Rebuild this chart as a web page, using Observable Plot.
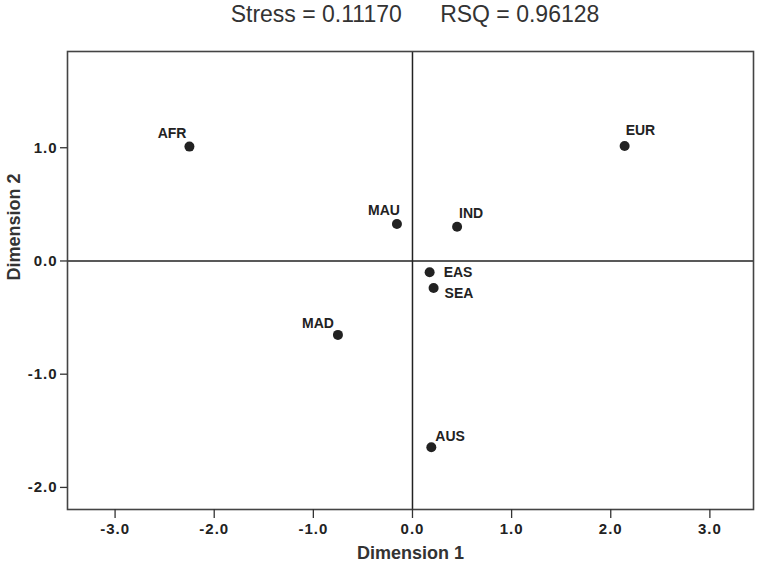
<!DOCTYPE html>
<html>
<head>
<meta charset="utf-8">
<script src="https://cdn.jsdelivr.net/npm/d3@7"></script>
<script src="https://cdn.jsdelivr.net/npm/@observablehq/plot@0.6"></script>
<style>
  body { margin: 0; background: #fff; font-family: "Liberation Sans", Arial, sans-serif; }
  #title { height: 30px; line-height: 28px; text-align: center; font-size: 23px; color: #333; white-space: pre; padding-left: 72px; }
  g[aria-label$="tick label"] text { letter-spacing: 1px; }
</style>
</head>
<body>
<div id="title">Stress = 0.11170      RSQ = 0.96128</div>
<div id="chart"></div>
<script>
const labels = ["AFR", "EUR", "MAU", "IND", "EAS", "SEA", "MAD", "AUS"];
const dim1 = [-2.25, 2.14, -0.157, 0.45, 0.173, 0.213, -0.752, 0.19];
const dim2 = [1.01, 1.016, 0.326, 0.303, -0.10, -0.238, -0.653, -1.645];
const xTicks = [-3, -2, -1, 0, 1, 2, 3];
const yTicks = [-2, -1, 0, 1];

// label placement (style only)
const place = {
  AFR: {dx: -3, dy: -13, anchor: "end"},
  EUR: {dx: 1, dy: -15, anchor: "start"},
  MAU: {dx: 3, dy: -14, anchor: "end"},
  IND: {dx: 2, dy: -13, anchor: "start"},
  EAS: {dx: 14, dy: 0, anchor: "start"},
  SEA: {dx: 11, dy: 6, anchor: "start"},
  MAD: {dx: -4, dy: -11, anchor: "end"},
  AUS: {dx: 4, dy: -11, anchor: "start"}
};

const fmt = d => d3.format(".1f")(d).replace("\u2212", "-");
const data = labels.map((l, i) => ({label: l, x: dim1[i], y: dim2[i]}));

const textMarks = labels.map(l => Plot.text(data.filter(d => d.label === l), {
  x: "x", y: "y", text: "label",
  dx: place[l].dx, dy: place[l].dy, textAnchor: place[l].anchor,
  fontSize: 14, fontWeight: "bold", fill: "#222"
}));

const chart = Plot.plot({
  width: 758,
  height: 537,
  marginLeft: 67,
  marginRight: 5,
  marginTop: 21,
  marginBottom: 58,
  style: {fontFamily: "Liberation Sans, Arial, sans-serif", background: "#fff"},
  x: {domain: [-3.48, 3.44], ticks: xTicks, tickFormat: fmt, label: null},
  y: {domain: [-2.195, 1.85], ticks: yTicks, tickFormat: fmt, label: null},
  marks: [
    Plot.ruleX([0], {stroke: "#222", strokeWidth: 1.5}),
    Plot.ruleY([0], {stroke: "#222", strokeWidth: 1.5}),
    Plot.frame({stroke: "#444", strokeWidth: 1.6}),
    Plot.axisX({ticks: xTicks, tickFormat: fmt, tickSize: 9, tickPadding: 5, fontSize: 15, fontWeight: "bold", stroke: "#333", fill: "#222", strokeWidth: 1.3}),
    Plot.axisY({ticks: yTicks, tickFormat: fmt, tickSize: 7, tickPadding: 3, fontSize: 15, fontWeight: "bold", stroke: "#333", fill: "#222", strokeWidth: 1.3}),
    Plot.dot(data, {x: "x", y: "y", r: 5, fill: "#222", stroke: null}),
    ...textMarks,
    Plot.text(["Dimension 1"], {frameAnchor: "bottom", dy: 49, fontSize: 18, fontWeight: "bold", fill: "#333"}),
    Plot.text(["Dimension 2"], {frameAnchor: "left", dx: -53, rotate: -90, fontSize: 18, fontWeight: "bold", fill: "#333"})
  ]
});
document.getElementById("chart").appendChild(chart);
</script>
</body>
</html>
